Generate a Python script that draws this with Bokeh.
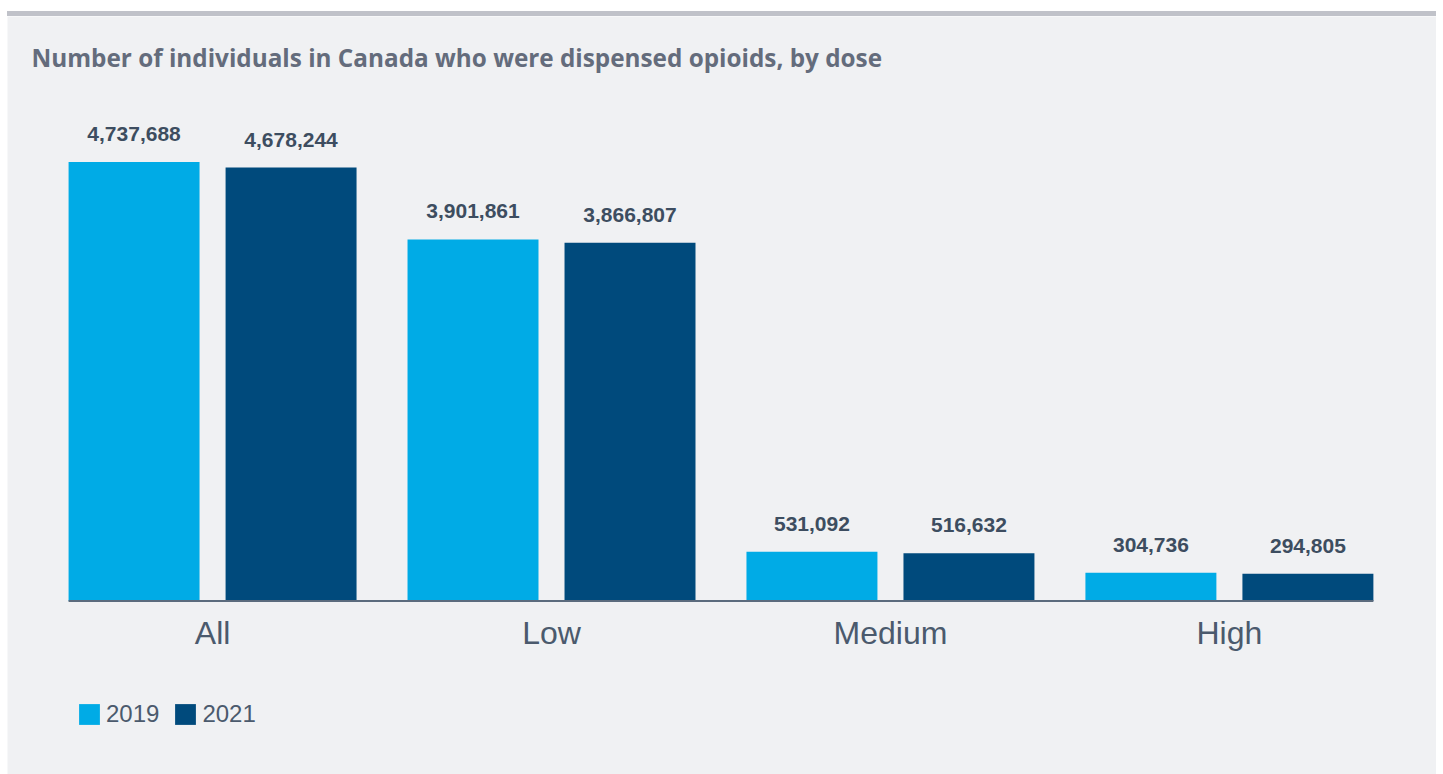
from bokeh.plotting import figure
from bokeh.models import Range1d, Legend, LegendItem, Label, Div
from bokeh.layouts import column
from bokeh.embed import file_html
from bokeh.resources import INLINE
from bokeh.core.properties import value

categories = ["All", "Low", "Medium", "High"]
years = ["2019", "2021"]
values_2019 = [4737688, 3901861, 531092, 304736]
values_2021 = [4678244, 3866807, 516632, 294805]
colors = ["#00abe6", "#004a7c"]
title_text = "Number of individuals in Canada who were dispensed opioids, by dose"

PANEL = "#f0f1f3"
W, H = 1429, 758

p = figure(width=W, height=H, output_backend="svg", toolbar_location=None,
           x_range=Range1d(-0.605, 3.611), y_range=Range1d(-1872000, 6308000),
           x_axis_location=None, y_axis_location=None,
           min_border_left=0, min_border_right=0, min_border_top=0, min_border_bottom=0,
           margin=(0, 0, 0, 7))
p.background_fill_color = PANEL
p.border_fill_color = PANEL
p.outline_line_color = None
p.xgrid.visible = False
p.ygrid.visible = False

d = 0.2316
bw = 0.3864
idx = list(range(len(categories)))
x19 = [i - d for i in idx]
x21 = [i + d for i in idx]

r19 = p.vbar(x=x19, top=values_2019, bottom=0, width=bw, fill_color=colors[0], line_color=None)
r21 = p.vbar(x=x21, top=values_2021, bottom=0, width=bw, fill_color=colors[1], line_color=None)

for xs, vals in ((x19, values_2019), (x21, values_2021)):
    p.text(x=xs, y=vals, text=[f"{v:,}" for v in vals], text_align="center",
           text_baseline="middle", y_offset=-28, text_font=value("Liberation Sans"),
           text_font_style="bold", text_font_size="21px", text_color="#3d4d60")

# baseline
p.segment(x0=[x19[0] - bw / 2], y0=[0], x1=[x21[-1] + bw / 2], y1=[0],
          line_color="#5b6b7d", line_width=2)

# category labels
p.text(x=idx, y=[0] * len(idx), text=categories, text_align="center",
       text_baseline="middle", y_offset=32, text_font=value("Liberation Sans"),
       text_font_size="32px", text_color="#4b5a6d")

p.add_layout(Label(x=24, y=717, x_units="screen", y_units="screen", text=title_text,
                   text_font="Open Sans", text_font_style="bold", text_font_size="24.3px",
                   text_color="#646c7c", text_baseline="middle"))

legend = Legend(items=[LegendItem(label=years[0], renderers=[r19]),
                       LegendItem(label=years[1], renderers=[r21])],
                location=(69, 46), orientation="horizontal", glyph_width=26, glyph_height=26,
                label_height=26, label_standoff=4, spacing=13, padding=0, margin=0,
                border_line_color=None, background_fill_alpha=0,
                label_text_font="Liberation Sans", label_text_font_size="24px",
                label_text_color="#4b5a6d")
p.add_layout(legend)

stripe = Div(text="", width=W, height=5, margin=(11, 0, 0, 7),
             styles={"background-color": "#c0c2c9"})
layout = column(stripe, p, spacing=0)

open("out.html", "w").write(file_html(layout, INLINE))
